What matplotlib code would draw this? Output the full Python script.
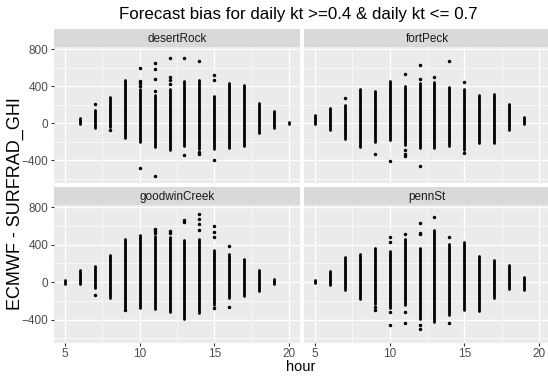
import matplotlib
matplotlib.use("Agg")
import matplotlib.pyplot as plt
from matplotlib.ticker import MultipleLocator

plt.rcParams['font.family'] = ['Liberation Sans', 'DejaVu Sans']

# hourly bias columns: dense core (lo..hi) plus the scattered points
desert_hours = list(range(6, 21))
desert_lo = [-15, -55, -40, -160, -205, -255, -290, -250, -280, -280, -270, -250, -105, -50, -10]
desert_hi = [55, 145, 285, 460, 370, 300, 370, 450, 470, 290, 430, 410, 215, 130, 10]
desert_out_h = [7, 8, 10, 10, 10, 10, 10, 11, 11, 11, 11, 11, 12, 12, 12, 12, 13, 13, 14, 14, 14, 15, 15, 15]
desert_out_v = [205, -75, 595, 455, 430, 400, -485, 650, 585, 475, 350, -570, 700, 500, 460, 420, 700, -345, 675, -310, -335, 520, 460, -400]

fort_hours = list(range(5, 20))
fort_lo = [-15, -75, -175, -255, -200, -180, -240, -270, -270, -250, -290, -220, -220, -75, -15]
fort_hi = [85, 160, 190, 365, 350, 450, 400, 435, 440, 390, 370, 300, 310, 210, 70]
fort_out_h = [7, 9, 10, 11, 11, 11, 11, 12, 12, 12, 13, 14, 15, 15]
fort_out_v = [270, -335, -415, 530, -290, -330, -360, 630, 480, -460, 500, 675, 440, -320]

goodwin_hours = list(range(5, 20))
goodwin_lo = [-15, -15, -60, -165, -280, -270, -290, -320, -390, -330, -240, -170, -150, -95, -15]
goodwin_hi = [25, 130, 170, 285, 455, 500, 490, 480, 450, 460, 340, 300, 250, 130, 30]
goodwin_out_h = [7, 9, 11, 11, 11, 12, 12, 13, 13, 14, 14, 14, 14, 15, 15, 15, 15, 16, 16]
goodwin_out_v = [-140, -300, 570, 545, 520, 550, 520, 660, 640, 730, 670, 620, 560, 600, 530, 480, -280, 390, -260]

penn_hours = list(range(5, 20))
penn_lo = [-10, -25, -85, -180, -230, -280, -240, -390, -420, -350, -300, -310, -165, -70, -80]
penn_hi = [25, 120, 270, 300, 365, 330, 460, 360, 560, 410, 430, 280, 235, 185, 60]
penn_out_h = [9, 9, 10, 10, 10, 10, 11, 11, 11, 12, 12, 12, 12, 12, 13, 14, 14]
penn_out_v = [-260, -300, 480, 430, -320, -460, 510, -320, -440, 625, 520, 510, -460, -495, 690, 485, -440]

panels = [
    ("desertRock", desert_hours, desert_lo, desert_hi, desert_out_h, desert_out_v),
    ("fortPeck", fort_hours, fort_lo, fort_hi, fort_out_h, fort_out_v),
    ("goodwinCreek", goodwin_hours, goodwin_lo, goodwin_hi, goodwin_out_h, goodwin_out_v),
    ("pennSt", penn_hours, penn_lo, penn_hi, penn_out_h, penn_out_v),
]

W, H = 548, 377
fig = plt.figure(figsize=(W / 100, H / 100), dpi=100)

def box(x0, y0, x1, y1):
    return [x0 / W, 1 - y1 / H, (x1 - x0) / W, (y1 - y0) / H]

cols = [(53.5, 300.5), (303.5, 550.5)]
rows = [(29, 47, 183), (187, 205, 343)]

for k, (name, hrs, lo, hi, oh, ov) in enumerate(panels):
    r, c = divmod(k, 2)
    x0, x1 = cols[c]
    s0, p0, p1 = rows[r]
    ax = fig.add_axes(box(x0, p0, x1, p1))
    ax.set_facecolor('#EBEBEB')
    for sp in ax.spines.values():
        sp.set_visible(False)
    ax.set_xlim(4.25, 20.75)
    ax.set_ylim(-648, 822)
    ax.xaxis.set_major_locator(MultipleLocator(5))
    ax.xaxis.set_minor_locator(MultipleLocator(2.5))
    ax.yaxis.set_major_locator(MultipleLocator(400))
    ax.yaxis.set_minor_locator(MultipleLocator(200))
    ax.grid(which='major', color='white', lw=0.9)
    ax.grid(which='minor', color='white', lw=0.45)
    ax.set_axisbelow(True)
    ax.tick_params(which='minor', length=0)
    ax.tick_params(which='major', length=2.2, width=0.8, color='#333333',
                   labelcolor='#4D4D4D', labelsize=8.5, pad=1.5)
    if c == 1:
        ax.tick_params(axis='y', length=0, labelleft=False)
    if r == 0:
        ax.tick_params(axis='x', length=0, labelbottom=False)

    for h, a, b in zip(hrs, lo, hi):
        ax.plot([h, h], [a, b], color='black', lw=2.0, solid_capstyle='round')
    ax.plot(oh, ov, 'o', color='black', ms=2.5, mew=0)

    sax = fig.add_axes(box(x0, s0, x1, p0))
    sax.set_facecolor('#D9D9D9')
    sax.set_xticks([])
    sax.set_yticks([])
    for sp in sax.spines.values():
        sp.set_visible(False)
    sax.text(0.5, 0.47, name, ha='center', va='center', fontsize=8.5,
             color='#1A1A1A', transform=sax.transAxes)

fig.text(298 / W, 1 - 15 / H, "Forecast bias for daily kt >=0.4 & daily kt <= 0.7",
         ha='center', va='center', fontsize=12.2, color='black')
fig.text(301 / W, 1 - 367 / H, "hour", ha='center', va='center', fontsize=10.5)
fig.text(15 / W, 1 - 204 / H, "ECMWF - SURFRAD_GHI", ha='center', va='center',
         rotation=90, fontsize=13)

fig.savefig("out.png", dpi=100)
